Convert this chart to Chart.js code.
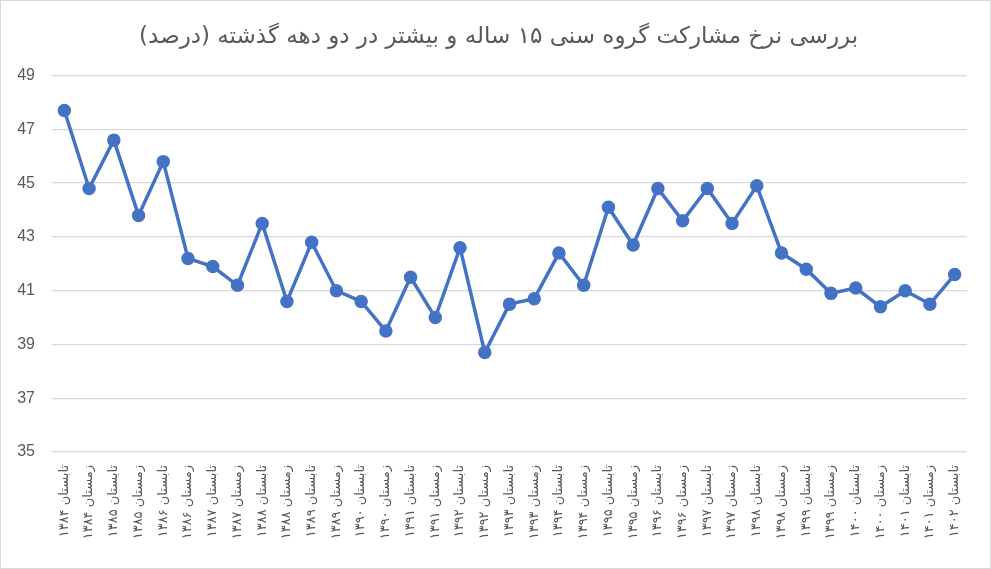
<!DOCTYPE html>
<html>
<head>
<meta charset="utf-8">
<script src="https://cdn.jsdelivr.net/npm/chart.js@4.4.1/dist/chart.umd.min.js"></script>
<style>
    html, body { margin: 0; padding: 0; background: #fff; }
    #wrap { position: relative; width: 989px; height: 567px; border: 1px solid #d9d9d9; }
</style>
</head>
<body>
<div id="wrap"><canvas id="chart" dir="rtl"></canvas></div>
<script>
const titleText = 'بررسی نرخ مشارکت گروه سنی ۱۵ ساله و بیشتر در دو دهه گذشته (درصد)';

const seasons = ['تابستان', 'زمستان'];
const years = ['۱۳۸۴', '۱۳۸۵', '۱۳۸۶', '۱۳۸۷', '۱۳۸۸', '۱۳۸۹', '۱۳۹۰', '۱۳۹۱', '۱۳۹۲',
    '۱۳۹۳', '۱۳۹۴', '۱۳۹۵', '۱۳۹۶', '۱۳۹۷', '۱۳۹۸', '۱۳۹۹', '۱۴۰۰', '۱۴۰۱', '۱۴۰۲'];

// labels: summer / winter of each year, ending with summer 1402
const labels = [];
years.forEach((y, i) => {
    labels.push(seasons[0] + ' ' + y);
    if (i < years.length - 1) labels.push(seasons[1] + ' ' + y);
});

const participation = [47.7, 44.8, 46.6, 43.8, 45.8, 42.2, 41.9, 41.2, 43.5, 40.6,
    42.8, 41.0, 40.6, 39.5, 41.5, 40.0, 42.6, 38.7, 40.5, 40.7,
    42.4, 41.2, 44.1, 42.7, 44.8, 43.6, 44.8, 43.5, 44.9, 42.4,
    41.8, 40.9, 41.1, 40.4, 41.0, 40.5, 41.6];

const yTicks = [35, 37, 39, 41, 43, 45, 47, 49];

new Chart(document.getElementById('chart'), {
    type: 'line',
    data: {
        labels: labels,
        datasets: [{
            data: participation,
            borderColor: '#4472c4',
            backgroundColor: '#4472c4',
            borderWidth: 3.5,
            pointRadius: 5,
            pointHoverRadius: 5,
            tension: 0
        }]
    },
    options: {
        responsive: true,
        maintainAspectRatio: false,
        animation: false,
        layout: { padding: { left: 0, right: 23, top: 0, bottom: 0 } },
        plugins: {
            legend: { display: false },
            tooltip: { enabled: false },
            title: {
                display: true,
                // trailing no-break spaces nudge the centred title a little to the right
                text: titleText + '\u00a0\u00a0\u00a0\u00a0',
                color: '#595959',
                font: { family: 'DejaVu Sans', size: 23, weight: 'normal' },
                padding: { top: 22, bottom: 25 }
            }
        },
        scales: {
            x: {
                offset: true,
                afterFit: scale => { scale.height = 116; },
                grid: { display: false },
                border: { display: false },
                ticks: {
                    autoSkip: false,
                    minRotation: 90,
                    maxRotation: 90,
                    padding: 5,
                    color: '#595959',
                    font: { family: 'DejaVu Sans', size: 13 }
                }
            },
            y: {
                min: 35,
                max: 49,
                afterBuildTicks: scale => { scale.ticks = yTicks.map(v => ({ value: v })); },
                afterFit: scale => { scale.width = 51; },
                grid: { color: '#d9d9d9', lineWidth: 1.3, drawTicks: false },
                border: { display: false },
                ticks: {
                    padding: 17,
                    color: '#595959',
                    font: { family: 'Liberation Sans', size: 16 }
                }
            }
        }
    }
});
</script>
</body>
</html>
